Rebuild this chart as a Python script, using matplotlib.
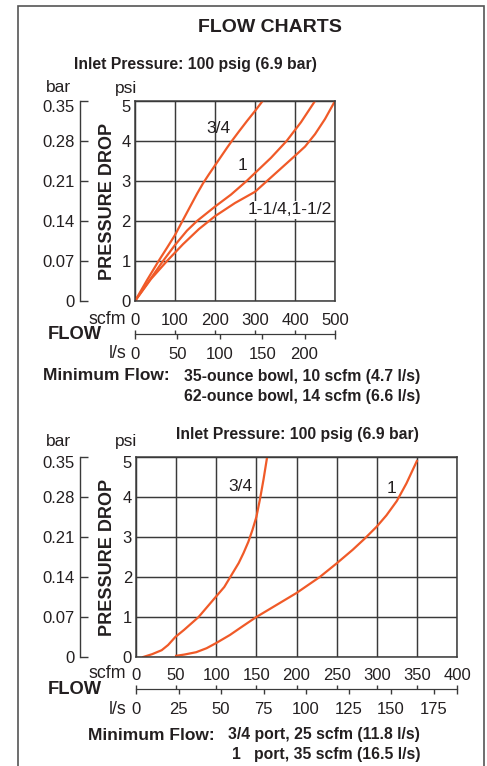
import matplotlib
matplotlib.use("Agg")
import matplotlib.pyplot as plt
import matplotlib.transforms as mtransforms
from matplotlib.patches import Rectangle

plt.rcParams.update({
    "font.family": ["Liberation Sans", "DejaVu Sans"],
    "text.color": "#231f20",
    "xtick.color": "#231f20",
    "ytick.color": "#231f20",
})

# conversion factors used on the secondary axes
SCFM_TO_LS = 0.4719
PSI_TO_BAR = 0.07

# top chart: pressure drop (psi) vs flow (scfm)
top_34_scfm = [0, 30, 59, 80, 100, 117, 140, 155, 170, 185, 200, 215, 230, 242, 260, 280, 300, 319]
top_34_psi = [0, 0.52, 1.0, 1.33, 1.65, 1.97, 2.4, 2.68, 2.94, 3.17, 3.39, 3.61, 3.83, 4.0, 4.24, 4.5, 4.75, 5.0]
top_1_scfm = [0, 35, 70, 100, 130, 155, 180, 200, 240, 279, 300, 340, 379, 415, 450]
top_1_psi = [0, 0.5, 1.0, 1.4, 1.76, 2.0, 2.2, 2.36, 2.66, 3.0, 3.2, 3.58, 4.0, 4.47, 5.0]
top_114_scfm = [0, 40, 80, 120, 160, 200, 250, 300, 330, 360, 400, 425, 450, 475, 500]
top_114_psi = [0, 0.55, 1.0, 1.42, 1.8, 2.12, 2.45, 2.73, 3.0, 3.27, 3.63, 3.86, 4.17, 4.55, 5.0]

# bottom chart
bot_34_scfm = [9, 20, 32, 40, 49, 60, 78, 98, 110, 119, 128, 134, 140, 145, 150, 155, 159, 163]
bot_34_psi = [0, 0.07, 0.17, 0.3, 0.5, 0.68, 1.0, 1.47, 1.75, 2.05, 2.35, 2.6, 2.88, 3.17, 3.5, 4.0, 4.45, 4.95]
bot_1_scfm = [50, 60, 75, 88, 100, 117, 133, 150, 175, 200, 229, 250, 270, 285, 300, 312, 325, 337, 350]
bot_1_psi = [0.03, 0.06, 0.12, 0.22, 0.35, 0.55, 0.77, 1.0, 1.3, 1.6, 2.0, 2.34, 2.68, 2.96, 3.26, 3.54, 3.9, 4.34, 4.9]

top_scfm_ticks = [0, 100, 200, 300, 400, 500]
top_ls_ticks = [0, 50, 100, 150, 200]
bot_scfm_ticks = [0, 50, 100, 150, 200, 250, 300, 350, 400]
bot_ls_ticks = [0, 25, 50, 75, 100, 125, 150, 175]
psi_ticks = [0, 1, 2, 3, 4, 5]
bar_labels = ["0", "0.07", "0.14", "0.21", "0.28", "0.35"]

ORANGE = "#f05a28"
GRID = "#3a3a3a"
PT = 72 / 100  # points per pixel at dpi 100
TICK_FS = 12

W, H = 487, 766
fig = plt.figure(figsize=(W / 100, H / 100), dpi=100)
# top tick label of each pressure scale sits a little below its gridline
drop = mtransforms.ScaledTranslation(0, -5 / 100, fig.dpi_scale_trans)


def fx(px):
    return px / W


def fy(py):
    return 1 - py / H


def chart(left, top, width, xmax, xticks, lsticks, xpad, flow_y, lspad):
    ax = fig.add_axes([fx(left), fy(top + 200), width / W, 200 / H])
    ax.set_xlim(0, xmax)
    ax.set_ylim(0, 5)
    ax.set_xticks(xticks)
    ax.set_yticks(psi_ticks)
    ax.tick_params(length=0, labelsize=TICK_FS)
    ax.tick_params(axis="x", pad=xpad * PT)
    ax.tick_params(axis="y", pad=4 * PT)
    ax.grid(color=GRID, lw=1.05)
    for s in ax.spines.values():
        s.set_color(GRID)
        s.set_linewidth(1.1)
    lbl = ax.get_yticklabels()[-1]
    lbl.set_transform(lbl.get_transform() + drop)

    # bar scale on the far left
    bax = ax.secondary_yaxis((80 - left) / width,
                             functions=(lambda p: p * PSI_TO_BAR, lambda b: b / PSI_TO_BAR))
    bax.set_yticks([v * PSI_TO_BAR for v in psi_ticks])
    bax.set_yticklabels(bar_labels)
    bax.tick_params(direction="in", length=8 * PT, width=1.0, labelsize=TICK_FS, pad=5 * PT,
                    color=GRID)
    bax.spines["left"].set_color(GRID)
    bax.spines["left"].set_linewidth(1.0)
    blbl = bax.get_yticklabels()[-1]
    blbl.set_transform(blbl.get_transform() + drop)

    # FLOW scale below the chart
    loc = -(flow_y - top - 200) / 200
    lax = ax.secondary_xaxis(loc, functions=(lambda q: q * SCFM_TO_LS, lambda l: l / SCFM_TO_LS))
    lax.set_xticks(lsticks)
    lax.set_xticks([xmax * SCFM_TO_LS], minor=True)
    lax.tick_params(which="both", direction="out", length=5 * PT, width=1.0, labelsize=TICK_FS,
                    pad=lspad * PT, color=GRID)
    lax.spines["bottom"].set_color(GRID)
    sax = ax.secondary_xaxis(loc)
    sax.set_xticks(xticks)
    sax.tick_params(direction="in", length=4.5 * PT, width=1.0, labelbottom=False, color=GRID)
    sax.spines["bottom"].set_color(GRID)
    return ax


# ---- top chart ----
ax1 = chart(135, 101, 200, 500, top_scfm_ticks, top_ls_ticks, 12, 334, 7.5)
ax1.plot(top_34_scfm, top_34_psi, color=ORANGE, lw=1.6)
ax1.plot(top_1_scfm, top_1_psi, color=ORANGE, lw=1.6)
ax1.plot(top_114_scfm, top_114_psi, color=ORANGE, lw=1.6)
ax1.text(208, 4.32, "3/4", fontsize=12.5, ha="center", va="center")
ax1.text(269, 3.4, "1", fontsize=12.5, ha="center", va="center")
ax1.text(386, 2.28, "1-1/4,1-1/2", fontsize=12.5, ha="center", va="center",
         bbox=dict(fc="white", ec="none", pad=1))

# ---- bottom chart ----
ax2 = chart(136, 457, 321, 400, bot_scfm_ticks, bot_ls_ticks, 10.5, 689, 8.5)
ax2.plot(bot_34_scfm, bot_34_psi, color=ORANGE, lw=1.6)
ax2.plot(bot_1_scfm, bot_1_psi, color=ORANGE, lw=1.6)
ax2.text(130, 4.26, "3/4", fontsize=12.5, ha="center", va="center")
ax2.text(319, 4.22, "1", fontsize=12.5, ha="center", va="center")


# ---- texts ----
def t(px, py, s, **kw):
    kw.setdefault("ha", "center")
    kw.setdefault("va", "center")
    fig.text(fx(px), fy(py), s, **kw)


t(270, 28, "FLOW CHARTS", fontsize=14, fontweight="bold")

t(195, 65, "Inlet Pressure: 100 psig (6.9 bar)", fontsize=11.3, fontweight="bold")
t(297, 435, "Inlet Pressure: 100 psig (6.9 bar)", fontsize=11.3, fontweight="bold")

for top_y, head_y, sc_y, fl_y, ls_y in [(101, 88, 319, 334, 353), (457, 441, 673, 690, 709)]:
    t(58, head_y, "bar", fontsize=12.5)
    t(126, head_y, "psi", fontsize=12.5)
    t(107, top_y + 100, "PRESSURE DROP", fontsize=13, fontweight="bold", rotation=90)
    t(126, sc_y, "scfm", fontsize=12.8, ha="right")
    t(75, fl_y, "FLOW", fontsize=13.2, fontweight="bold")
    t(126, ls_y, "l/s", fontsize=12.8, ha="right")

t(43, 376, "Minimum Flow:", fontsize=12.5, fontweight="bold", ha="left")
t(420, 376, "35-ounce bowl, 10 scfm (4.7 l/s)", fontsize=11.3, fontweight="bold", ha="right")
t(420, 397, "62-ounce bowl, 14 scfm (6.6 l/s)", fontsize=11.3, fontweight="bold", ha="right")

t(88, 735, "Minimum Flow:", fontsize=12.5, fontweight="bold", ha="left")
t(420, 735, "3/4 port, 25 scfm (11.8 l/s)", fontsize=11.3, fontweight="bold", ha="right")
t(420, 755, "1   port, 35 scfm (16.5 l/s)", fontsize=11.3, fontweight="bold", ha="right")

# outer frame
fig.patches.append(Rectangle((fx(18), -0.05), (484 - 18) / W, fy(6) + 0.05,
                             transform=fig.transFigure, fill=False, ec="#555555", lw=1.2))

fig.savefig("out.png", dpi=100, facecolor="white")
